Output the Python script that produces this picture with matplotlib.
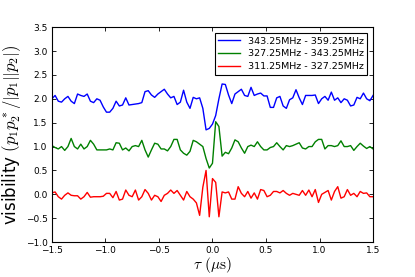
import numpy as np
import matplotlib
matplotlib.use("Agg")
import matplotlib.pyplot as plt

# delay grid, 101 samples from -1.5 to 1.5 us
tau = np.linspace(-1.5, 1.5, 101)

vis_high = [2.0, 2.07, 1.95, 1.93, 2.0, 2.05, 1.95, 1.9, 2.1, 2.07,
            2.05, 2.1, 1.95, 1.92, 2.0, 1.97, 1.83, 1.72, 1.72, 1.8,
            1.95, 1.85, 1.87, 2.02, 1.87, 1.88, 1.89, 1.9, 1.92, 2.15,
            2.17, 2.08, 2.03, 2.1, 2.15, 2.2, 2.1, 2.02, 2.05, 1.88,
            1.93, 2.18, 1.93, 1.8, 2.03, 2.0, 2.02, 1.8, 1.35, 1.38,
            1.47, 1.65, 2.0, 2.31, 2.3, 2.08, 1.9, 2.1, 2.15, 2.2,
            2.07, 2.05, 2.24, 2.07, 2.1, 2.12, 2.06, 2.06, 1.82, 1.82,
            2.02, 2.05, 1.85, 1.8, 1.98, 2.02, 2.19, 2.02, 1.88, 2.07,
            2.07, 2.07, 2.08, 1.9, 2.0, 2.05, 1.97, 2.14, 1.97, 2.02,
            1.92, 2.0, 1.97, 1.85, 1.87, 2.03, 2.0, 2.12, 2.0, 1.96,
            2.07]

vis_mid = [1.02, 0.98, 0.95, 1.0, 0.92, 1.0, 1.17, 1.0, 0.95, 1.05,
           0.95, 1.0, 1.13, 1.05, 0.93, 0.93, 0.93, 0.93, 0.95, 0.93,
           1.08, 1.07, 0.93, 0.97, 0.91, 1.0, 1.02, 1.0, 1.13, 0.93,
           0.78, 0.93, 1.07, 1.05, 0.95, 0.95, 0.91, 1.0, 1.15, 1.15,
           0.93, 0.86, 0.82, 0.9, 1.13, 1.1, 1.05, 1.0, 0.75, 0.55,
           0.65, 1.52, 1.42, 0.8, 0.88, 0.85, 0.97, 1.14, 1.1, 0.97,
           0.86, 1.0, 1.03, 1.0, 1.1, 1.0, 0.93, 0.93, 0.98, 1.0,
           1.08, 1.0, 0.93, 1.02, 1.0, 1.02, 1.05, 1.08, 0.97, 0.95,
           1.0, 1.0, 1.1, 1.15, 1.15, 0.95, 1.02, 1.02, 1.0, 1.02,
           1.12, 1.0, 1.0, 1.02, 0.92, 1.0, 1.07, 1.01, 0.96, 1.0,
           0.95]

vis_low = [0.03, 0.05, -0.05, -0.1, -0.02, 0.03, -0.02, -0.03, -0.03, -0.1,
           -0.05, 0.04, -0.06, -0.05, -0.05, -0.05, -0.04, 0.02, 0.02, -0.07,
           0.06, -0.12, -0.1, 0.09, -0.02, -0.05, 0.09, -0.12, -0.05, 0.1,
           0.02, -0.12, -0.02, -0.05, -0.15, -0.02, 0.02, 0.09, 0.02, 0.08,
           -0.02, -0.12, 0.06, -0.05, -0.1, -0.18, -0.44, 0.15, 0.5, -0.47,
           0.33, 0.25, -0.47, 0.05, 0.03, 0.05, -0.1, -0.1, 0.16, 0.02,
           -0.05, 0.06, -0.08, 0.03, -0.1, 0.1, 0.08, -0.05, -0.02, 0.06,
           0.06, 0.03, 0.08, 0.02, -0.02, 0.02, 0.0, -0.02, 0.08, -0.02,
           0.09, -0.05, 0.1, -0.17, 0.0, 0.04, 0.08, -0.12, 0.06, 0.16,
           -0.08, -0.05, 0.1, -0.02, 0.02, -0.05, 0.06, 0.02, 0.03, -0.05,
           -0.05]

labels = ["343.25MHz - 359.25MHz", "327.25MHz - 343.25MHz", "311.25MHz - 327.25MHz"]

plt.rcParams['mathtext.fontset'] = 'cm'
plt.rcParams['font.family'] = 'DejaVu Sans'

fig = plt.figure(figsize=(4.15, 2.77), dpi=100)
ax = fig.add_axes([0.125, 0.126, 0.774, 0.776])

ax.plot(tau, vis_high, color='#0000ff', lw=1.0, label=labels[0])
ax.plot(tau, vis_mid, color='#008000', lw=1.0, label=labels[1])
ax.plot(tau, vis_low, color='#ff0000', lw=1.0, label=labels[2])

ax.set_xlim(-1.5, 1.5)
ax.set_ylim(-1.0, 3.5)
ax.set_xticks(np.arange(-1.5, 1.51, 0.5))
ax.set_yticks(np.arange(-1.0, 3.51, 0.5))
ax.tick_params(direction='in', top=True, right=True, labelsize=6.5, length=3, width=0.6, pad=3)
for s in ax.spines.values():
    s.set_linewidth(0.8)

ax.set_xlabel(r'$\tau\ (\mu\mathrm{s})$', fontsize=11, labelpad=0)
ax.set_ylabel(r'visibility $(p_1p_2^*/|p_1||p_2|)$', fontsize=12, labelpad=2)

leg = ax.legend(loc='upper right', fontsize=6.8, handlelength=2.3, handletextpad=0.8,
                borderpad=0.4, labelspacing=0.4, borderaxespad=0.6,
                fancybox=False, framealpha=1)
leg.get_frame().set_edgecolor('black')
leg.get_frame().set_linewidth(0.8)

fig.savefig('out.png', dpi=100, facecolor='white')
